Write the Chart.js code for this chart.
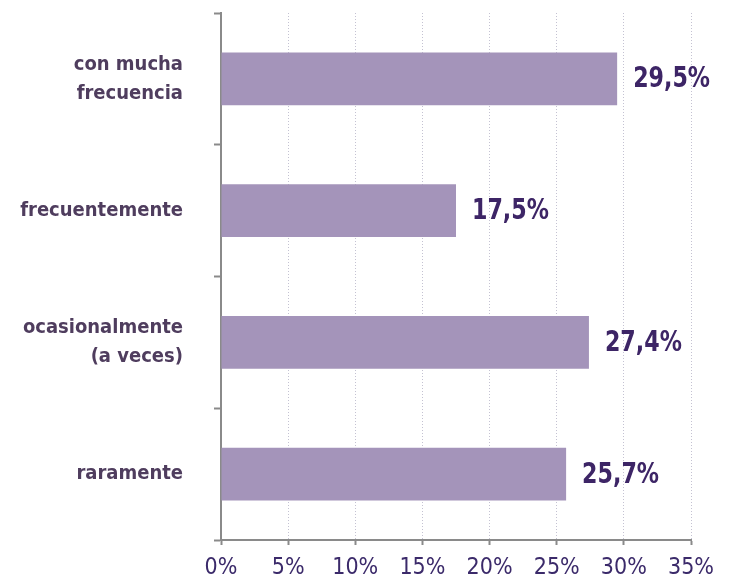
<!DOCTYPE html>
<html>
<head>
<meta charset="utf-8">
<script src="https://cdn.jsdelivr.net/npm/chart.js@4/dist/chart.umd.min.js"></script>
<style>
  html, body { margin: 0; padding: 0; background: #fff; }
  canvas { display: block; }
</style>
</head>
<body>
<canvas id="chart" width="729" height="581"></canvas>
<script>
// data
const categories = [['con mucha', 'frecuencia'], 'frecuentemente', ['ocasionalmente', '(a veces)'], 'raramente'];
const shares = [29.5, 17.5, 27.4, 25.7];
const xTicks = [0, 5, 10, 15, 20, 25, 30, 35];

const fontFamily = "'DejaVu Sans Condensed', 'DejaVu Sans', sans-serif";

// writes "29,5%" next to the end of each bar (squeezed a bit, the original font is narrow)
const valueLabels = {
    id: 'valueLabels',
    afterDatasetsDraw(chart) {
        const ctx = chart.ctx;
        const meta = chart.getDatasetMeta(0);
        meta.data.forEach(function(bar, i) {
            const txt = shares[i].toFixed(1).replace('.', ',') + '%';
            ctx.save();
            ctx.translate(bar.x + 16, bar.y + 1);
            ctx.scale(0.85, 1);
            ctx.font = 'bold 29px ' + fontFamily;
            ctx.fillStyle = '#3d2566';
            ctx.textAlign = 'left';
            ctx.textBaseline = 'middle';
            ctx.fillText(txt, 0, 0);
            ctx.restore();
        });
    }
};

const ctx = document.getElementById('chart').getContext('2d');
const chart = new Chart(ctx, {
    type: 'bar',
    data: {
        labels: categories,
        datasets: [{
            data: shares,
            backgroundColor: '#a494ba',
            borderWidth: 0,
            barPercentage: 0.4,
            categoryPercentage: 1
        }]
    },
    options: {
        indexAxis: 'y',
        responsive: false,
        animation: false,
        layout: { padding: { top: 13, right: 38, left: 0, bottom: 0 } },
        plugins: {
            legend: { display: false },
            tooltip: { enabled: false }
        },
        scales: {
            x: {
                min: 0,
                max: 35,
                afterBuildTicks: function(scale) {
                    scale.ticks = xTicks.map(function(v) { return { value: v }; });
                },
                afterFit: function(scale) {
                    scale.height = 41;
                    scale.paddingLeft = 0;
                    scale.paddingRight = 0;
                },
                grid: {
                    color: '#c4c2d2',
                    lineWidth: 1,
                    tickColor: '#8a8a8a',
                    tickLength: 5,
                    tickWidth: 2
                },
                border: { display: true, color: '#8a8a8a', width: 2, dash: [1, 2] },
                ticks: {
                    color: '#3b2a6a',
                    padding: 9,
                    font: { family: fontFamily, size: 23 },
                    callback: function(v) { return v + '%'; }
                }
            },
            y: {
                afterFit: function(scale) {
                    scale.width = 221;
                    scale.paddingTop = 0;
                    scale.paddingBottom = 0;
                },
                grid: {
                    drawOnChartArea: false,
                    offset: true,
                    tickColor: '#8a8a8a',
                    tickLength: 7,
                    tickWidth: 2
                },
                border: { display: true, color: '#8a8a8a', width: 2 },
                ticks: {
                    color: '#4f3d5e',
                    padding: 31,
                    font: { family: fontFamily, size: 20, weight: 'bold', lineHeight: 1.45 }
                }
            }
        }
    },
    plugins: [valueLabels]
});
</script>
</body>
</html>
